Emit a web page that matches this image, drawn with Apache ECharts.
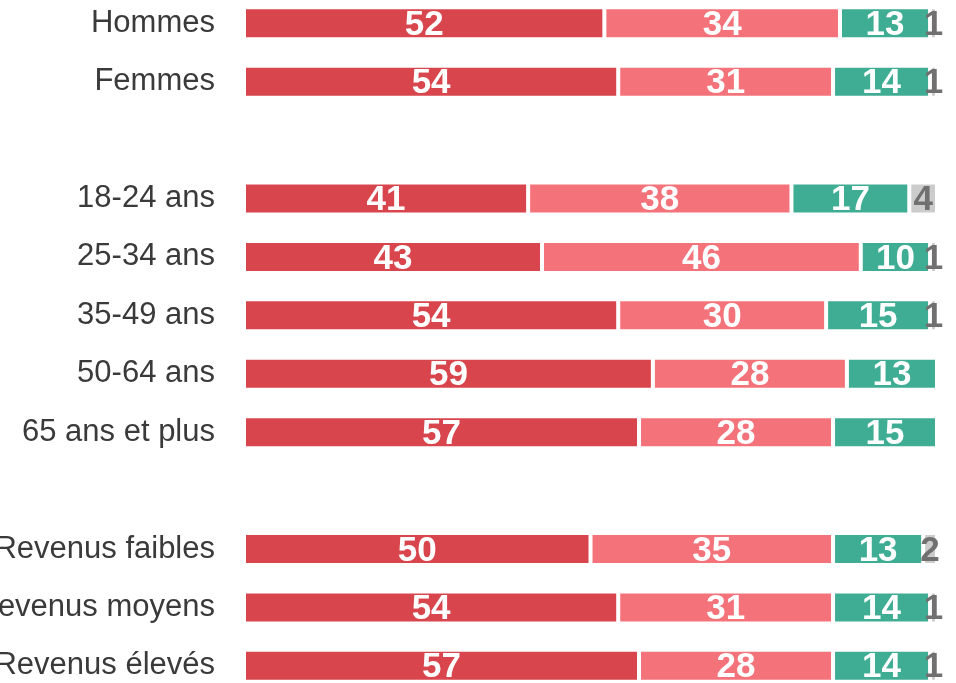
<!DOCTYPE html>
<html>
<head>
<meta charset="utf-8">
<script src="https://cdn.jsdelivr.net/npm/echarts@6/dist/echarts.min.js"></script>
<style>
  html, body { margin: 0; padding: 0; background: #fff; }
  #chart { width: 956px; height: 683px; }
</style>
</head>
<body>
<div id="chart"></div>
<script>
// categories (empty strings are the spacer rows between groups)
const categories = ['Hommes', 'Femmes', '', '18-24 ans', '25-34 ans', '35-49 ans', '50-64 ans', '65 ans et plus', '', 'Revenus faibles', 'Revenus moyens', 'Revenus élevés']

const part1 = [52, 54, '-', 41, 43, 54, 59, 57, '-', 50, 54, 57]
const part2 = [34, 31, '-', 38, 46, 30, 28, 28, '-', 35, 31, 28]
const part3 = [13, 14, '-', 17, 10, 15, 13, 15, '-', 13, 14, 14]
const part4 = [1, 1, '-', 4, 1, 1, '-', '-', '-', 2, 1, 1]

const colors = ['#d8454c', '#f4737a', '#3fad93', '#cccccc']

const chart = echarts.init(document.getElementById('chart'))

function barSeries(data, color, labelColor) {
  return {
    type: 'bar',
    stack: 'total',
    barWidth: 32,
    data: data,
    itemStyle: {
      color: color,
      borderColor: '#fff',
      borderWidth: 2
    },
    label: {
      show: true,
      position: 'inside',
      offset: [0, 2],
      color: labelColor,
      fontFamily: 'Liberation Sans, Arial, sans-serif',
      fontWeight: 'bold',
      fontSize: 35
    },
    silent: true,
    animation: false
  }
}

chart.setOption({
  grid: {
    left: 244,
    right: 19,
    top: -6,
    bottom: -12,
    containLabel: false,
    outerBoundsMode: 'none'
  },
  xAxis: {
    type: 'value',
    min: 0,
    max: 100,
    show: false
  },
  yAxis: {
    type: 'category',
    data: categories,
    inverse: true,
    axisLine: { show: false },
    axisTick: { show: false },
    splitLine: { show: false },
    axisLabel: {
      margin: 29,
      color: '#3a3a3a',
      fontFamily: 'Liberation Sans, Arial, sans-serif',
      fontSize: 31
    }
  },
  series: [
    barSeries(part1, colors[0], '#fff'),
    barSeries(part2, colors[1], '#fff'),
    barSeries(part3, colors[2], '#fff'),
    barSeries(part4, colors[3], '#707070')
  ]
})
</script>
</body>
</html>
